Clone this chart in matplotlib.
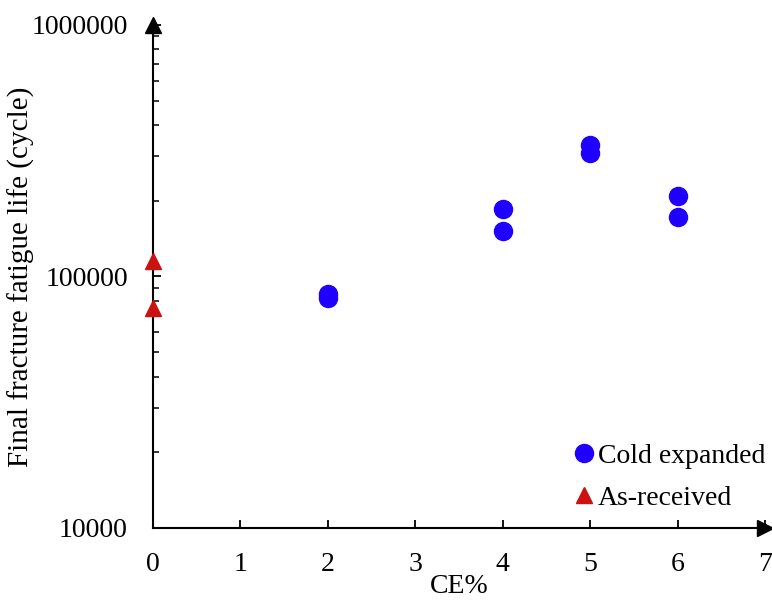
import matplotlib
matplotlib.use("Agg")
import matplotlib.pyplot as plt
from matplotlib.ticker import LogLocator, NullFormatter

ce_cold = [2, 2, 4, 4, 5, 5, 6, 6]
life_cold = [85500, 82400, 185000, 151000, 333000, 309000, 208000, 172000]
ce_asr = [0, 0]
life_asr = [115000, 75000]
x_ticks = [0, 1, 2, 3, 4, 5, 6, 7]
y_ticks = [10000, 100000, 1000000]
y_tick_labels = ["10000", "100000", "1000000"]

plt.rcParams['font.family'] = ['Liberation Serif', 'DejaVu Serif']

fig = plt.figure(figsize=(7.72, 6.02), dpi=100)
ax = fig.add_axes([0.198, 0.123, 0.793, 0.8355])

ax.plot(ce_cold, life_cold, 'o', color='#1f00ff', markersize=13, linestyle='none',
        label='Cold expanded', clip_on=False, zorder=3)
ax.plot(ce_asr, life_asr, '^', color='#cc1111', markersize=11, linestyle='none',
        label='As-received', clip_on=False, zorder=3)

ax.set_yscale('log')
ax.set_xlim(0, 7)
ax.set_ylim(10000, 1000000)
ax.set_xticks(x_ticks)
ax.set_yticks(y_ticks)
ax.set_yticklabels(y_tick_labels)
ax.yaxis.set_minor_locator(LogLocator(base=10, subs=range(2, 10)))
ax.yaxis.set_minor_formatter(NullFormatter())

for s in ['top', 'right']:
    ax.spines[s].set_visible(False)
for s in ['left', 'bottom']:
    ax.spines[s].set_linewidth(1.5)
    ax.spines[s].set_color('black')

ax.tick_params(axis='both', which='major', direction='in', length=6, width=1.3,
               labelsize=20, colors='black')
ax.tick_params(axis='x', which='major', pad=17)
ax.tick_params(axis='y', which='major', pad=18)
ax.tick_params(axis='y', which='minor', direction='in', length=4, width=1.1)

# arrows
ax.plot(1, 0, '>k', markersize=11, transform=ax.transAxes, clip_on=False)
ax.plot(0, 1, '^k', markersize=11, transform=ax.transAxes, clip_on=False)

ax.set_xlabel('CE%', fontsize=20, labelpad=-2)
ax.set_ylabel('Final fracture fatigue life (cycle)', fontsize=21)
ax.yaxis.set_label_coords(-0.193, 0.5)

leg = ax.legend(loc='lower right', bbox_to_anchor=(1.018, 0.012), frameon=False,
                fontsize=20, handletextpad=0.0, labelspacing=0.6, handlelength=1.0,
                borderaxespad=0.0)

fig.savefig('out.png', dpi=100)
